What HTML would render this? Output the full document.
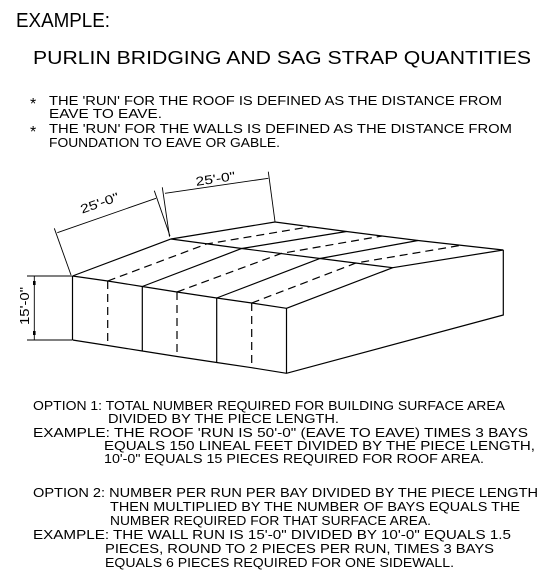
<!DOCTYPE html>
<html><head><meta charset="utf-8"><style>
html,body{margin:0;padding:0;background:#fff;}
svg{display:block;}
text{font-family:"Liberation Sans",sans-serif;fill:#000;}
.l{stroke:#000;stroke-width:1.2;fill:none;}
.d{stroke:#000;stroke-width:1.2;fill:none;stroke-dasharray:8 5;}
.t{stroke:#000;stroke-width:0.9;fill:none;}
</style></head><body>
<svg width="545" height="577" viewBox="0 0 545 577">
<text x="16" y="27" font-size="20" textLength="94" lengthAdjust="spacingAndGlyphs">EXAMPLE:</text>
<text x="33" y="64" font-size="18.5" textLength="498" lengthAdjust="spacingAndGlyphs">PURLIN BRIDGING AND SAG STRAP QUANTITIES</text>
<g font-size="12.5">
<text x="30" y="109" font-size="16">*</text>
<text x="49" y="105" textLength="453" lengthAdjust="spacingAndGlyphs">THE 'RUN' FOR THE ROOF IS DEFINED AS THE DISTANCE FROM</text>
<text x="49" y="118" textLength="113" lengthAdjust="spacingAndGlyphs">EAVE TO EAVE.</text>
<text x="30" y="137" font-size="16">*</text>
<text x="49" y="133" textLength="463" lengthAdjust="spacingAndGlyphs">THE 'RUN' FOR THE WALLS IS DEFINED AS THE DISTANCE FROM</text>
<text x="49" y="147" textLength="231" lengthAdjust="spacingAndGlyphs">FOUNDATION TO EAVE OR GABLE.</text>
</g>
<g>
<polyline class="l" points="72.5,276 107.7,281 142.3,286.5 177,292 216.7,298 251.7,303 286.5,308.3"/>
<polyline class="l" points="72.5,340 107.7,345.5 142.3,351 177,356.5 216.7,362.5 251.7,367.7 286.5,373.3 503.3,315 503.3,250"/>
<line class="l" x1="72.5" y1="276" x2="72.5" y2="340"/>
<line class="l" x1="142.3" y1="286.5" x2="142.3" y2="351"/>
<line class="l" x1="216.7" y1="298" x2="216.7" y2="362.5"/>
<line class="l" x1="286.5" y1="308.3" x2="286.5" y2="373.3"/>
<line class="d" x1="107.7" y1="281" x2="107.7" y2="345.5"/>
<line class="d" x1="177" y1="292" x2="177" y2="356.5"/>
<line class="d" x1="251.7" y1="303" x2="251.7" y2="367.7"/>
<polyline class="l" points="72.5,276 171,239 275,222"/>
<polyline class="l" points="171,239 241.7,248.5 320,258.5 392.7,267.7"/>
<polyline class="l" points="275,222 346.5,231.5 418,240.5 503.3,250"/>
<polyline class="l" points="286.5,308.3 392.7,267.7 503.3,250"/>
<polyline class="l" points="142.3,286.5 241.7,248.5 346.5,231.5"/>
<polyline class="l" points="216.7,298 320,258.5 418,240.5"/>
<polyline class="d" points="107.7,281 206.5,244 310,226.7"/>
<polyline class="d" points="177,292 281,253.5 382,236"/>
<polyline class="d" points="251.7,303 356,263 460,245.5"/>
</g>
<g>
<line class="t" x1="27" y1="276" x2="72" y2="276"/>
<line class="t" x1="27" y1="340" x2="72" y2="340"/>
<line class="t" x1="34.3" y1="276" x2="34.3" y2="340"/>
<rect x="33" y="281" width="2.6" height="4" fill="#000"/>
<rect x="33" y="331" width="2.6" height="4" fill="#000"/>
<text transform="translate(29,306) rotate(-90)" font-size="12.5" text-anchor="middle" textLength="38" lengthAdjust="spacingAndGlyphs">15'-0"</text>
</g>
<g>
<line class="t" x1="71" y1="275" x2="54.3" y2="228.3"/>
<line class="t" x1="170" y1="236" x2="154.3" y2="190.7"/>
<line class="t" x1="57.3" y1="232.7" x2="156" y2="198.3"/>
<text transform="translate(101,207) rotate(-19.2)" font-size="12.5" text-anchor="middle" textLength="40" lengthAdjust="spacingAndGlyphs">25'-0"</text>
</g>
<g>
<line class="t" x1="162.3" y1="187.3" x2="169.5" y2="236.7"/>
<line class="t" x1="268.3" y1="171.7" x2="275" y2="221.7"/>
<line class="t" x1="165" y1="193.3" x2="268.3" y2="178.3"/>
<text transform="translate(216,183) rotate(-8.3)" font-size="12.5" text-anchor="middle" textLength="40" lengthAdjust="spacingAndGlyphs">25'-0"</text>
</g>
<g font-size="12.5">
<text x="33" y="410" textLength="472" lengthAdjust="spacingAndGlyphs">OPTION 1: TOTAL NUMBER REQUIRED FOR BUILDING SURFACE AREA</text>
<text x="108" y="423" textLength="231" lengthAdjust="spacingAndGlyphs">DIVIDED BY THE PIECE LENGTH.</text>
<text x="33" y="437" textLength="495" lengthAdjust="spacingAndGlyphs">EXAMPLE: THE ROOF 'RUN IS 50'-0" (EAVE TO EAVE) TIMES 3 BAYS</text>
<text x="104" y="450" textLength="431" lengthAdjust="spacingAndGlyphs">EQUALS 150 LINEAL FEET DIVIDED BY THE PIECE LENGTH,</text>
<text x="104" y="463" textLength="380" lengthAdjust="spacingAndGlyphs">10'-0" EQUALS 15 PIECES REQUIRED FOR ROOF AREA.</text>
<text x="33" y="497" textLength="505" lengthAdjust="spacingAndGlyphs">OPTION 2: NUMBER PER RUN PER BAY DIVIDED BY THE PIECE LENGTH</text>
<text x="110" y="511" textLength="410" lengthAdjust="spacingAndGlyphs">THEN MULTIPLIED BY THE NUMBER OF BAYS EQUALS THE</text>
<text x="110" y="525" textLength="321" lengthAdjust="spacingAndGlyphs">NUMBER REQUIRED FOR THAT SURFACE AREA.</text>
<text x="33" y="539" textLength="478" lengthAdjust="spacingAndGlyphs">EXAMPLE: THE WALL RUN IS 15'-0" DIVIDED BY 10'-0" EQUALS 1.5</text>
<text x="105" y="553" textLength="389" lengthAdjust="spacingAndGlyphs">PIECES, ROUND TO 2 PIECES PER RUN, TIMES 3 BAYS</text>
<text x="105" y="567" textLength="349" lengthAdjust="spacingAndGlyphs">EQUALS 6 PIECES REQUIRED FOR ONE SIDEWALL.</text>
</g>
</svg>
</body></html>
